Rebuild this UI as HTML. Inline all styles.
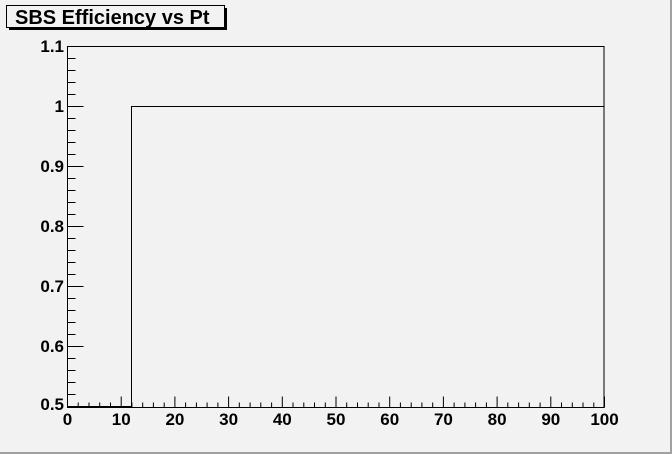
<!DOCTYPE html>
<html><head><style>body{margin:0;background:#f2f2f2}svg{display:block}</style></head><body>
<svg width="672" height="454" xmlns="http://www.w3.org/2000/svg" font-family="Liberation Sans, Arial, sans-serif" font-weight="bold">
<rect x="0" y="0" width="672" height="454" fill="#f2f2f2"/>
<rect x="670" y="0" width="2" height="454" fill="#a0a0a0"/>
<rect x="0" y="452" width="672" height="2" fill="#a0a0a0"/>
<rect x="9" y="8" width="218" height="22" fill="#000"/>
<rect x="6.5" y="5.5" width="218" height="22" fill="#f2f2f2" stroke="#000" stroke-width="1"/>
<text x="15" y="24" font-size="20">SBS Efficiency vs Pt</text>
<rect x="67.5" y="46.5" width="536.5" height="361" fill="none" stroke="#000" stroke-width="1"/>
<polyline points="67,406.5 131.5,406.5 131.5,106.5 604,106.5" fill="none" stroke="#000" stroke-width="1"/>
<path stroke="#000" stroke-width="1" fill="none" d="
M67.5 407.5v-11 M78.2 407.5v-5 M89 407.5v-5 M99.7 407.5v-5 M110.5 407.5v-5
M121.2 407.5v-11 M131.9 407.5v-5 M142.7 407.5v-5 M153.4 407.5v-5 M164.2 407.5v-5
M174.9 407.5v-11 M185.6 407.5v-5 M196.4 407.5v-5 M207.1 407.5v-5 M217.9 407.5v-5
M228.6 407.5v-11 M239.3 407.5v-5 M250.1 407.5v-5 M260.8 407.5v-5 M271.6 407.5v-5
M282.3 407.5v-11 M293 407.5v-5 M303.8 407.5v-5 M314.5 407.5v-5 M325.3 407.5v-5
M336 407.5v-11 M346.7 407.5v-5 M357.5 407.5v-5 M368.2 407.5v-5 M379 407.5v-5
M389.7 407.5v-11 M400.4 407.5v-5 M411.2 407.5v-5 M421.9 407.5v-5 M432.7 407.5v-5
M443.4 407.5v-11 M454.1 407.5v-5 M464.9 407.5v-5 M475.6 407.5v-5 M486.4 407.5v-5
M497.1 407.5v-11 M507.8 407.5v-5 M518.6 407.5v-5 M529.3 407.5v-5 M540.1 407.5v-5
M550.8 407.5v-11 M561.5 407.5v-5 M572.3 407.5v-5 M583 407.5v-5 M593.8 407.5v-5
M604.5 407.5v-11
M67.5 46.5h16 M67.5 58.5h8 M67.5 70.5h8 M67.5 82.5h8 M67.5 94.5h8
M67.5 106.5h16 M67.5 118.5h8 M67.5 130.5h8 M67.5 142.5h8 M67.5 154.5h8
M67.5 166.5h16 M67.5 178.5h8 M67.5 190.5h8 M67.5 202.5h8 M67.5 214.5h8
M67.5 226.5h16 M67.5 238.5h8 M67.5 250.5h8 M67.5 262.5h8 M67.5 274.5h8
M67.5 286.5h16 M67.5 298.5h8 M67.5 310.5h8 M67.5 322.5h8 M67.5 334.5h8
M67.5 346.5h16 M67.5 358.5h8 M67.5 370.5h8 M67.5 382.5h8 M67.5 394.5h8
M67.5 406.5h16"/>
<g font-size="17" text-anchor="middle">
<text x="67.5" y="425">0</text><text x="121.2" y="425">10</text><text x="174.9" y="425">20</text>
<text x="228.6" y="425">30</text><text x="282.3" y="425">40</text><text x="336" y="425">50</text>
<text x="389.7" y="425">60</text><text x="443.4" y="425">70</text><text x="497.1" y="425">80</text>
<text x="550.8" y="425">90</text><text x="604.5" y="425">100</text>
</g>
<g font-size="17" text-anchor="end">
<text x="64" y="52">1.1</text><text x="64" y="112">1</text><text x="64" y="172">0.9</text>
<text x="64" y="232">0.8</text><text x="64" y="292">0.7</text><text x="64" y="352">0.6</text>
<text x="64" y="410">0.5</text>
</g>
</svg>
</body></html>
